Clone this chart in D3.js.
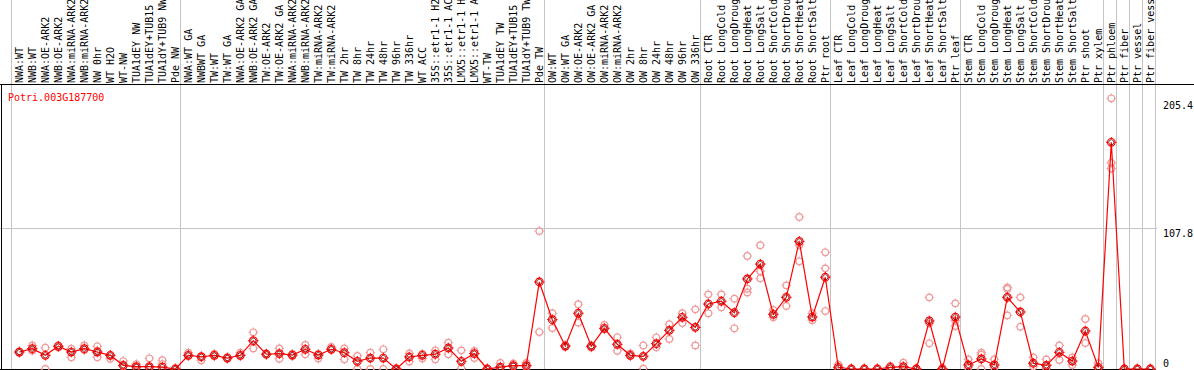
<!DOCTYPE html>
<html><head><meta charset="utf-8">
<script src="https://cdn.jsdelivr.net/npm/d3@7"></script>
<style>html,body{margin:0;padding:0;background:#fff;overflow:hidden}svg{display:block}text{font-family:"DejaVu Sans Mono",monospace;font-size:10px}</style>
</head><body>
<svg id="c" width="1194" height="370"></svg>
<script>
const geneTitle = "Potri.003G187700";
const categories = ["NWA:WT","NWB:WT","NWA:OE-ARK2","NWB:OE-ARK2","NWA:miRNA-ARK2","NWB:miRNA-ARK2","NW 0hr","WT H2O","WT-NW","TUA1dEY NW","TUA1dEY+TUB15","TUA1dY+TUB9 NW","Pde NW",
"NWA:WT GA","NWBWT GA","TW:WT","TW:WT GA","NWA:OE-ARK2 GA","NWB:OE-ARK2 GA","TW:OE-ARK2","TW:OE-ARK2 GA","NWA:miRNA-ARK2","NWB:miRNA-ARK2","TW:miRNA-ARK2","TW:miRNA-ARK2","TW 2hr","TW 8hr","TW 24hr","TW 48hr","TW 96hr","TW 336hr","WT ACC","35S::etr1-1 H2","35S::etr1-1 AC","LMX5::etr1-1 H","LMX5::etr1-1 A","WT-TW","TUA1dEY TW","TUA1dEY+TUB15","TUA1dY+TUB9 TW","Pde TW",
"OW:WT","OW:WT GA","OW:OE-ARK2","OW:OE-ARK2 GA","OW:miRNA-ARK2","OW:miRNA-ARK2","OW 2hr","OW 8hr","OW 24hr","OW 48hr","OW 96hr","OW 336hr",
"Root CTR","Root LongCold","Root LongDroug","Root LongHeat","Root LongSalt","Root ShortCold","Root ShortDrou","Root ShortHeat","Root ShortSalt","Ptr root",
"Leaf CTR","Leaf LongCold","Leaf LongDroug","Leaf LongHeat","Leaf LongSalt","Leaf ShortCold","Leaf ShortDrou","Leaf ShortHeat","Leaf ShortSalt","Ptr leaf",
"Stem CTR","Stem LongCold","Stem LongDroug","Stem LongHeat","Stem LongSalt","Stem ShortCold","Stem ShortDrou","Stem ShortHeat","Stem ShortSalt","Ptr shoot","Ptr xylem",
"Ptr phloem","Ptr fiber","Ptr vessel","Ptr fiber vess"];
// index of first category of each group (group separators)
const groupStarts = [0,13,41,53,63,73,84,85,86,87,88];
const meanValues = [13.0,15.6,10.5,17.4,13.0,15.6,13.0,10.5,2.8,1.8,1.8,1.5,0,
10.5,9.4,10.5,8.4,10.5,21.7,11.3,11.8,10.7,15.1,10.7,15.1,12.5,5.9,8.4,8.4,0,9.2,10.5,11.3,16.1,5.9,11.8,0,1.5,2.6,2.6,66.7,
37.8,17.6,42.7,17.4,31.2,18.9,10.5,9.7,19.4,29.6,39.6,31.9,
49.8,51.9,43.1,69.0,80.4,41.9,54.9,97.8,39.8,70.3,
1.3,0,0,0,1.3,1.8,0,36.8,0,39.8,
3.1,7.7,3.1,54.9,43.7,4.4,2.8,12.8,6.1,29.1,1.3,
173.7,0,0,0];
const rep1 = [13.5,18,16.3,18,15.6,18.1,17.4,10.5,6.1,3.8,8.2,6.7,0.5,
12.5,9.4,11.5,9,12.5,28.1,12,15.8,11.5,18.4,11.5,16.9,15.8,10,12.5,15.1,0.5,12,11.5,14.3,20.2,14.3,13.8,0.5,4.6,4.2,4.6,105.7,
42.7,18,49.6,18,33.7,24.3,12,18.1,24.3,34.3,42.7,45.7,
57.2,57.2,53.9,86.6,94.8,45.2,64.1,116.5,42.7,89.4,
3.3,0.5,0.5,0.5,2.3,4.8,0.5,54.9,0.5,50.3,
7.4,12.5,7.4,61.3,54.9,8.9,7.4,18.1,8.9,38.3,4.4,
207.4,0.5,0.5,0.5];
const rep2 = [12.5,14,0,16.5,9,14.5,9,7.9,2,1,1,3.8,0,
10,6.7,10,8,10,15.8,11,7.9,10,11.3,8,15,7.4,0,0,0,0,5.7,8,7.4,11.3,0.5,8.4,0,1,2,1.5,28.3,
31.4,17,35.5,16.5,30.5,14,10,0.3,16.6,23.0,35.2,18.1,
42.7,47.3,31.2,61.5,69.5,39.6,48.3,82.5,37.4,44.4,
0.5,0,0,0,0.5,0.5,0,19.7,0,32.9,
1,0,1,41.1,32.4,2,0.5,6.9,3,19.9,0.5,
158,0,0,0];
const rep3 = [null,null,null,null,null,null,14,null,null,null,null,null,null,
null,null,null,null,null,null,null,null,null,null,null,null,null,null,null,null,null,null,null,null,null,null,null,null,null,null,null,null,
null,null,null,null,null,null,null,null,null,null,null,null,
null,null,null,58.7,74.8,null,null,95,null,77.1,
null,null,null,null,null,null,null,35,null,37,
null,11,null,62.5,null,null,null,null,null,null,null,
153.6,null,null,null];
const yTickValues = [0, 107.8, 205.4];

const svg = d3.select("#c");
const W = 1194, H = 370;
const step = 13, firstX = 19.3;
const x = d3.scaleLinear().domain([0, 1]).range([firstX, firstX + step]);
const y = d3.scaleLinear().domain([0, 107.8]).range([369, 228.3]);
const grey = "#c4c4c4";
const headerY = 85;
const plotRight = x(87) + 5.5;

// horizontal grid at 107.8
svg.append("line").attr("x1",0).attr("x2",plotRight+1.5)
  .attr("y1",Math.round(y(107.8))+0.5).attr("y2",Math.round(y(107.8))+0.5)
  .attr("stroke",grey).attr("stroke-width",1);

// group separators
svg.selectAll("line.sep").data(groupStarts).enter().append("line")
  .attr("class","sep")
  .attr("x1",d=>Math.round(x(d)-8)+0.5).attr("x2",d=>Math.round(x(d)-8)+0.5)
  .attr("y1",0).attr("y2",369)
  .attr("stroke",grey).attr("stroke-width",1);

// header labels
svg.selectAll("text.cat").data(categories).enter().append("text")
  .attr("class","cat")
  .attr("transform",(d,i)=>`translate(${x(i)+3.5},83) rotate(-90)`)
  .attr("fill","#000")
  .text(d=>d);

// header line, axes
svg.append("line").attr("x1",0).attr("x2",W).attr("y1",headerY-0.5).attr("y2",headerY-0.5).attr("stroke","#000");
svg.append("line").attr("x1",1.5).attr("x2",1.5).attr("y1",headerY).attr("y2",370).attr("stroke","#000");
svg.append("line").attr("x1",0).attr("x2",plotRight).attr("y1",369.5).attr("y2",369.5).attr("stroke","#000");

// title
svg.append("text").attr("x",8).attr("y",101).attr("fill","#ff0000").text(geneTitle);

// y tick labels on the right
svg.selectAll("text.yt").data(yTickValues).enter().append("text")
  .attr("class","yt").attr("x",1163)
  .attr("y",d=> d===0 ? 366.5 : y(d)+8.5)
  .attr("fill","#000")
  .text(d=>String(d));

function marker(g, cx, cy, color, r){
  g.append("circle").attr("cx",cx).attr("cy",cy).attr("r",r).attr("fill","none").attr("stroke",color).attr("stroke-width",1.2);
  const t=[[0,-1],[0,1],[-1,0],[1,0]];
  t.forEach(([dx,dy])=>{
    g.append("line").attr("x1",cx+dx*(r-0.5)).attr("y1",cy+dy*(r-0.5)).attr("x2",cx+dx*(r+1.5)).attr("y2",cy+dy*(r+1.5)).attr("stroke",color).attr("stroke-width",1);
  });
}

const pink = "#f09a9a";
const gRep = svg.append("g");
[rep1, rep2, rep3].forEach(arr=>{
  arr.forEach((v,i)=>{ if(v!==null && v!==undefined) marker(gRep, x(i), y(v), pink, 3.3); });
});

// main line
const line = d3.line().x((d,i)=>x(i)).y(d=>y(d));
svg.append("path").attr("d",line(meanValues)).attr("fill","none").attr("stroke","#ff0000").attr("stroke-width",1.2);

const gMain = svg.append("g");
meanValues.forEach((v,i)=>{
  marker(gMain, x(i), y(v), "#ff0000", 3.8);
  gMain.append("circle").attr("cx",x(i)).attr("cy",y(v)).attr("r",2.6).attr("fill","none").attr("stroke","#7a0000").attr("stroke-width",0.8);
});
</script>
</body></html>
